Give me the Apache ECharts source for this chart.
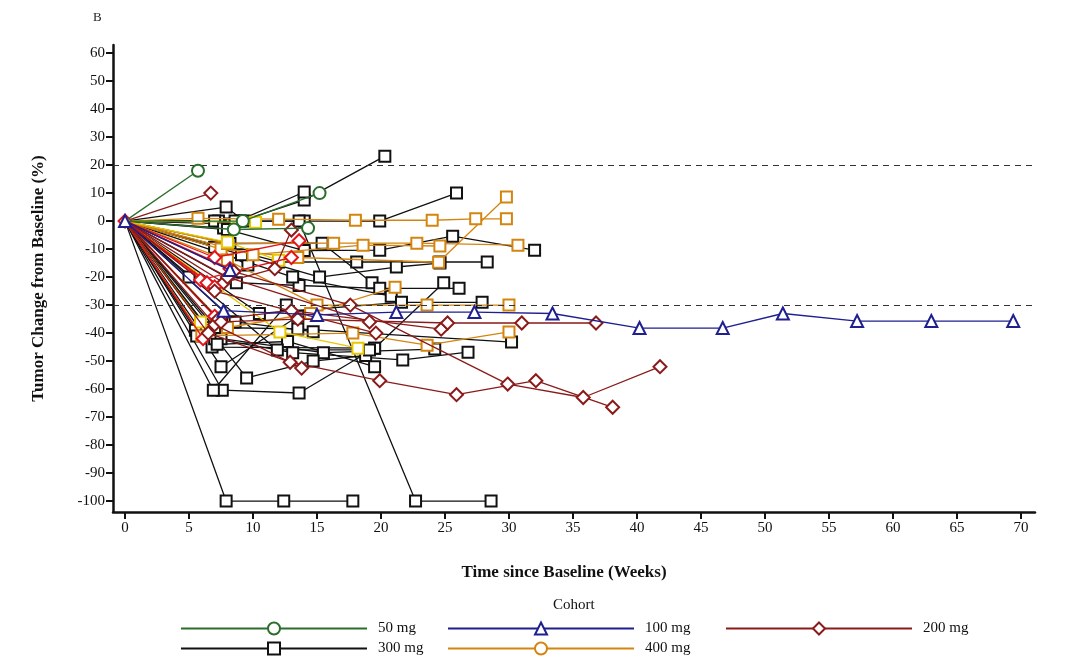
<!DOCTYPE html>
<html><head><meta charset="utf-8">
<script src="https://cdn.jsdelivr.net/npm/echarts/dist/echarts.min.js"></script>
<style>html,body{margin:0;padding:0;background:#fff}#c{width:1080px;height:667px}</style>
</head><body><div id="c"></div>
<script>
// ---- data: [week, % change] per patient ----
const cohortNames = ['50 mg','100 mg','200 mg','300 mg','400 mg'];
const xTicks = [0,5,10,15,20,25,30,35,40,45,50,55,60,65,70];
const yTicks = [60,50,40,30,20,10,0,-10,-20,-30,-40,-50,-60,-70,-80,-90,-100];
const refLines = [20,-30];

const mg50 = [
  [[0,0],[5.7,18]],
  [[0,0],[9.2,0],[15.2,10]],
  [[0,0],[8.5,-3],[14.3,-2.5]]
];
const mg100 = [
  [[0,0],[7.7,-32],[15,-33.5],[21.2,-32.5],[27.3,-32.5],[33.4,-33],[40.2,-38.2],[46.7,-38.2],[51.4,-33],[57.2,-35.7],[63,-35.7],[69.4,-35.7]],
  [[0,0],[8.2,-17.5]]
];
const mg200 = [
  [[0,0],[6.7,10]],
  [[0,0],[7,-13],[13.6,-7]],
  [[0,0],[7.7,-22],[11.7,-17],[13,-3.2]],
  [[0,0],[5.9,-21],[13,-13]],
  [[0,0],[6.4,-22]],
  [[0,0],[7,-23.5]],
  [[0,0],[6.1,-42]],
  [[0,0],[7,-34]],
  [[0,0],[8.2,-17]],
  [[0,0],[6.5,-40],[12.9,-50.4],[19.9,-57],[25.9,-62],[32.1,-57],[38.1,-66.5]],
  [[0,0],[8.5,-18],[17.6,-30],[29.9,-58.2],[35.8,-63],[41.8,-52]],
  [[0,0],[7,-37],[13.8,-52.5]],
  [[0,0],[7.3,-35],[13,-32],[24.7,-38.6]],
  [[0,0],[7.5,-36],[13.5,-35],[25.2,-36.4],[31,-36.4],[36.8,-36.4]],
  [[0,0],[8,-20],[19.1,-36]],
  [[0,0],[7,-25],[19.6,-40]]
];
const mg300 = [
  [[0,0],[7.9,5],[9.3,0]],
  [[0,0],[9,0],[14,7.5],[20.3,23.2]],
  [[0,0],[8.3,-1],[14,10.4]],
  [[0,0],[7.3,0],[14,0],[19.9,0],[25.9,10]],
  [[0,0],[13.6,0],[22.7,-100],[28.6,-100]],
  [[0,0],[7,0]],
  [[0,0],[7.7,-2.5]],
  [[0,0],[8.6,0]],
  [[0,0],[7,-9.3],[9.6,-15.7]],
  [[0,0],[8,-3],[14,-10.5],[19.9,-10.4],[25.6,-5.4],[32,-10.4]],
  [[0,0],[12,-14.6],[18.1,-14.6],[24.6,-14.6],[28.3,-14.6]],
  [[0,0],[5,-20]],
  [[0,0],[9.1,-12],[15.2,-20],[21.2,-16.4],[24.6,-15]],
  [[0,0],[8.2,-8],[15.4,-7.9],[19.3,-22]],
  [[0,0],[8.7,-22],[13.6,-23],[19.9,-24],[26.1,-24]],
  [[0,0],[13.1,-20],[20.8,-26.8]],
  [[0,0],[10.5,-33],[21.6,-29],[27.9,-29]],
  [[0,0],[6.8,-45],[19.5,-45.4],[24.9,-22]],
  [[0,0],[7,-38],[13.5,-38.5],[30.2,-43.2]],
  [[0,0],[7,-42],[13.1,-47],[21.7,-49.6],[26.8,-46.8]],
  [[0,0],[7.5,-42],[15.5,-47],[24.2,-45.7]],
  [[0,0],[7.2,-44],[12.7,-43],[19.5,-52]],
  [[0,0],[7.6,-60.4],[13.6,-61.4],[19.5,-45.4]],
  [[0,0],[6.9,-60.4],[12.6,-30]],
  [[0,0],[9.5,-56],[14.7,-50],[18.8,-48]],
  [[0,0],[7.5,-52],[13.5,-34]],
  [[0,0],[7.9,-100],[12.4,-100],[17.8,-100]],
  [[0,0],[5.5,-39]],
  [[0,0],[5.6,-41],[8.4,-36]],
  [[0,0],[8.6,-36],[14.7,-39.5]],
  [[0,0],[11.9,-46],[19.1,-46]]
];
const mg400 = [
  [[0,0],[5.7,1],[12,0.7],[18,0.3],[24,0.3],[27.4,0.8],[29.8,0.8]],
  [[0,0],[7.5,-10],[13.5,-13],[24.5,-14.7],[29.8,8.6]],
  [[0,0],[8,-8],[16.3,-7.9],[22.8,-7.9],[30.7,-8.6]],
  [[0,0],[10,-12],[18.6,-8.6],[24.6,-8.9]],
  [[0,0],[8,-14],[15,-30],[23.6,-30],[30,-30]],
  [[0,0],[8,-38],[14.5,-33],[21.1,-23.6]],
  [[0,0],[6,-41],[17.8,-40],[23.6,-44.3],[30,-39.6]],
  [[0,0],[12.1,-39.6],[18.2,-45.4]],
  [[0,0],[10.2,-0.4]],
  [[0,0],[8,-7.5],[12,-14]],
  [[0,0],[5.9,-36]]
];

// ---- styling ----
const FONT = '"Liberation Serif","DejaVu Serif",serif';
const C = {g:'#2b6e2b', n:'#1f1f8f', rd:'#8b1a1a', rb:'#e3141b', k:'#111111', o:'#d4850f', y:'#e6c800'};
const brightRed = new Set([1,3,4,5,6,7,8]);
const yellowSet = new Set([7,8,9,10]);

function mk(pts, color, symbol, size, showOrigin, z){
  return {
    type:'line', name:'_p', silent:true, animation:false, z:z,
    data: pts.map((p,i)=> (i===0 && !showOrigin) ? {value:p, symbol:'none'} : p),
    symbol:symbol, symbolSize:size, showSymbol:true,
    lineStyle:{color:color, width:1.3},
    itemStyle:{color:color, borderColor:color, borderWidth:1.6}
  };
}
const series = [];
mg300.forEach((p,i)=> series.push(mk(p, C.k, 'emptyRect', 11, false, 2)));
mg400.forEach((p,i)=> series.push(mk(p, yellowSet.has(i)?C.y:C.o, 'emptyRect', 11, false, 3)));
mg200.forEach((p,i)=> series.push(mk(p, brightRed.has(i)?C.rb:C.rd, 'emptyDiamond', 13, i===1, 4)));
mg100.forEach((p,i)=> series.push(mk(p, C.n, 'emptyTriangle', 12, i===0, 5)));
mg50.forEach((p,i)=> series.push(mk(p, C.g, 'emptyCircle', 12, false, 5)));

// reference lines
series[0].markLine = {
  symbol:'none', silent:true, animation:false, label:{show:false},
  lineStyle:{type:[6,5], color:'#333', width:1.2},
  data: refLines.map(v=>({yAxis:v}))
};

// legend-only series
const legSym = {'50 mg':['emptyCircle',C.g],'100 mg':['emptyTriangle',C.n],'200 mg':['emptyDiamond',C.rd],'300 mg':['emptyRect',C.k],'400 mg':['emptyCircle',C.o]};
cohortNames.forEach(n=>{
  series.push({type:'line', name:n, data:[], symbol:legSym[n][0], symbolSize:14,
    lineStyle:{color:legSym[n][1], width:1.3}, itemStyle:{color:legSym[n][1], borderColor:legSym[n][1], borderWidth:1.5}});
});

const legBase = {orient:'vertical', top:621, padding:0, itemWidth:186, itemHeight:15, itemGap:5, selectedMode:false,
  textStyle:{fontFamily:FONT, fontSize:15, color:'#111', padding:[0,0,0,6]}};

const chart = echarts.init(document.getElementById('c'), null, {renderer:'canvas'});
chart.setOption({
  animation:false,
  backgroundColor:'#fff',
  grid:{left:113, right:45, top:45, bottom:155},
  xAxis:{type:'value', min:-0.94, max:71.1,
    axisLine:{onZero:false, lineStyle:{color:'#111', width:2.5}},
    axisTick:{customValues:xTicks, length:7, lineStyle:{color:'#111', width:2}},
    axisLabel:{customValues:xTicks, fontFamily:FONT, fontSize:15, color:'#111', margin:9},
    splitLine:{show:false},
    name:'Time since Baseline (Weeks)', nameLocation:'middle', nameGap:52,
    nameTextStyle:{fontFamily:FONT, fontSize:17, fontWeight:'bold', color:'#111', padding:[0,20,0,0]}},
  yAxis:{type:'value', min:-103.9, max:62.9,
    axisLine:{onZero:false, lineStyle:{color:'#111', width:2.5}},
    axisTick:{customValues:yTicks, length:7, lineStyle:{color:'#111', width:2}},
    axisLabel:{customValues:yTicks, fontFamily:FONT, fontSize:15, color:'#111', margin:8},
    splitLine:{show:false},
    name:'Tumor Change from Baseline (%)', nameLocation:'middle', nameGap:66,
    nameTextStyle:{fontFamily:FONT, fontSize:17, fontWeight:'bold', color:'#111'}},
  legend:[
    Object.assign({}, legBase, {left:180, data:['50 mg','300 mg']}),
    Object.assign({}, legBase, {left:447, data:['100 mg','400 mg']}),
    Object.assign({}, legBase, {left:725, data:['200 mg']})
  ],
  graphic:[
    {type:'text', left:93, top:11, style:{text:'B', font:'13px '+FONT, fill:'#222'}},
    {type:'text', left:553, top:598, style:{text:'Cohort', font:'15px '+FONT, fill:'#111'}}
  ],
  series: series
});
</script></body></html>
